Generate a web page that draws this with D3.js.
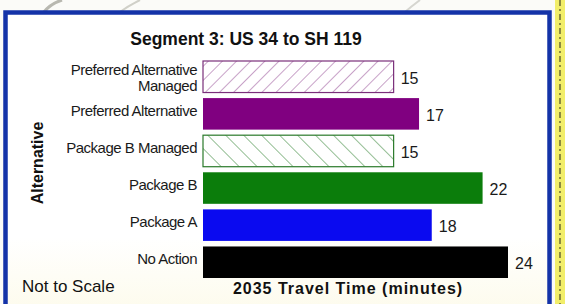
<!DOCTYPE html>
<html><head><meta charset="utf-8">
<script src="https://cdn.jsdelivr.net/npm/d3@7"></script>
<style>
html,body{margin:0;padding:0;background:#fff;}
svg{display:block;font-family:"Liberation Sans",Arial,sans-serif;}
</style></head>
<body>
<script>
const categories = ["Preferred Alternative Managed","Preferred Alternative","Package B Managed","Package B","Package A","No Action"];
const labelLines = [["Preferred Alternative","Managed"],["Preferred Alternative"],["Package B Managed"],["Package B"],["Package A"],["No Action"]];
const values = [15, 17, 15, 22, 18, 24];
const fills = ["hatchPurple","#800080","hatchGreen","#0b7d0b","#0a0af0","#000000"];
const title = "Segment 3: US 34 to SH 119";
const xTitle = "2035 Travel Time (minutes)";
const yTitle = "Alternative";
const note = "Not to Scale";

const W = 565, H = 304;
const svg = d3.select("body").append("svg").attr("width", W).attr("height", H);
const defs = svg.append("defs");

const grad = defs.append("linearGradient").attr("id","bg").attr("x1",0).attr("y1",0).attr("x2",0).attr("y2",1);
grad.append("stop").attr("offset","0%").attr("stop-color","#ffffff");
grad.append("stop").attr("offset","75%").attr("stop-color","#ffffff");
grad.append("stop").attr("offset","100%").attr("stop-color","#fdfbec");

const p1 = defs.append("pattern").attr("id","hatchPurple").attr("patternUnits","userSpaceOnUse")
  .attr("width",10).attr("height",10).attr("patternTransform","rotate(45)");
p1.append("rect").attr("width",10).attr("height",10).attr("fill","#fff");
p1.append("line").attr("x1",0).attr("y1",0).attr("x2",0).attr("y2",10).attr("stroke","#9a559a").attr("stroke-width",1.1);
const p2 = defs.append("pattern").attr("id","hatchGreen").attr("patternUnits","userSpaceOnUse")
  .attr("width",12.7).attr("height",12.7).attr("patternTransform","rotate(-45)");
p2.append("rect").attr("width",12.7).attr("height",12.7).attr("fill","#fff");
p2.append("line").attr("x1",0).attr("y1",0).attr("x2",0).attr("y2",12.7).attr("stroke","#3c8a3c").attr("stroke-width",1.1);

svg.append("rect").attr("x",0).attr("y",0).attr("width",W).attr("height",H).attr("fill","#fbfbf8");
svg.append("path").attr("d","M44,12 Q50,4 62,0").attr("fill","none").attr("stroke","#b8b8b0").attr("stroke-width",3);
svg.append("path").attr("d","M120,12 Q128,6 140,0").attr("fill","none").attr("stroke","#d0d0c8").attr("stroke-width",2);
svg.append("path").attr("d","M405,12 Q412,6 420,0").attr("fill","none").attr("stroke","#d6d6d0").attr("stroke-width",2);
svg.append("rect").attr("x",555).attr("y",0).attr("width",10).attr("height",H).attr("fill","#f2ee6a");
svg.append("line").attr("x1",560).attr("y1",0).attr("x2",560).attr("y2",H)
  .attr("stroke","#55552a").attr("stroke-width",1.3).attr("stroke-dasharray","6,3,2,3");

svg.append("rect").attr("x",5.5).attr("y",12.5).attr("width",544).attr("height",300)
  .attr("fill","url(#bg)").attr("stroke","#1433a8").attr("stroke-width",4.5);

const x = d3.scaleLinear().domain([0, 24]).range([203, 508]);
const y = d3.scaleBand().domain(categories).range([61, 278]).paddingInner(0.15).paddingOuter(0);

svg.selectAll("rect.bar").data(categories).enter().append("rect").attr("class","bar")
  .attr("x", x(0)).attr("y", d => y(d))
  .attr("width", (d,i) => x(values[i]) - x(0)).attr("height", y.bandwidth())
  .attr("fill", (d,i) => fills[i].startsWith("hatch") ? `url(#${fills[i]})` : fills[i])
  .attr("stroke", (d,i) => fills[i] === "hatchPurple" ? "#7a2f7a" : fills[i] === "hatchGreen" ? "#2a7a2a" : "none")
  .attr("stroke-width", 1.2);

const lab = svg.selectAll("text.cat").data(categories).enter().append("text").attr("class","cat")
  .attr("text-anchor","end").attr("font-size",15).attr("letter-spacing",-0.5).attr("fill","#1a1a1a");
lab.each(function(d,i){
  const lines = labelLines[i];
  const cy = y(d) + y.bandwidth()/2;
  const t = d3.select(this);
  lines.forEach((ln, k) => {
    const base = lines.length === 1 ? cy + 2 : cy - 2 + (k * 16);
    t.append("tspan").attr("x", 197).attr("y", base).text(ln);
  });
});

svg.selectAll("text.val").data(categories).enter().append("text").attr("class","val")
  .attr("x", (d,i) => x(values[i]) + 7)
  .attr("y", d => y(d) + y.bandwidth()/2 + 7)
  .attr("font-size",16).attr("fill","#1a1a1a").text((d,i) => values[i]);

svg.append("text").attr("x",246).attr("y",45).attr("text-anchor","middle")
  .attr("font-size",17.5).attr("font-weight","bold").attr("fill","#111").text(title);

svg.append("text").attr("x",348).attr("y",294).attr("text-anchor","middle")
  .attr("font-size",16).attr("font-weight","bold").attr("letter-spacing",1).attr("fill","#111").text(xTitle);
svg.append("text").attr("transform","translate(43,163) rotate(-90)").attr("text-anchor","middle")
  .attr("font-size",16).attr("font-weight","bold").attr("fill","#111").text(yTitle);
svg.append("text").attr("x",22).attr("y",292).attr("font-size",17).attr("fill","#111").text(note);
</script>
</body></html>
